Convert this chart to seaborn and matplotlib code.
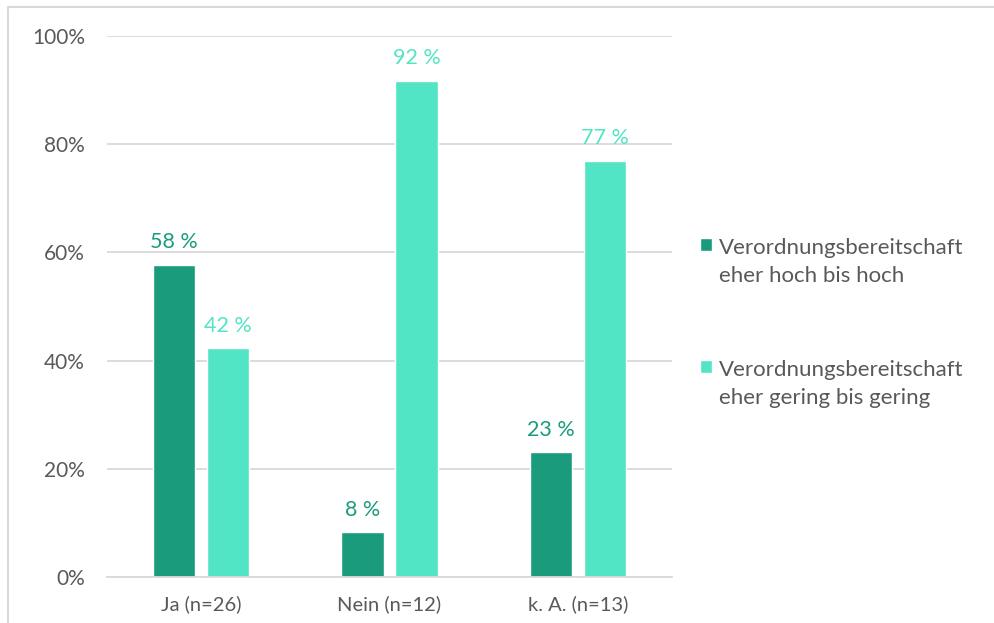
import matplotlib
matplotlib.use("Agg")
import matplotlib.pyplot as plt
import seaborn as sns
import pandas as pd
from matplotlib.lines import Line2D
from matplotlib.patches import Rectangle
from matplotlib.legend_handler import HandlerPatch
from matplotlib.ticker import FuncFormatter

categories = ["Ja (n=26)", "Nein (n=12)", "k. A. (n=13)"]
series_names = ["Verordnungsbereitschaft\neher hoch bis hoch",
                "Verordnungsbereitschaft\neher gering bis gering"]
high_values = [57.7, 8.3, 23.1]
low_values = [42.3, 91.7, 76.9]
colors = ["#1A9C7C", "#52E5C5"]

df = pd.DataFrame({
    "Kategorie": categories * 2,
    "Serie": [series_names[0]] * 3 + [series_names[1]] * 3,
    "Wert": high_values + low_values,
})

sns.set_theme(style="white")
plt.rcParams["font.family"] = ["Lato", "DejaVu Sans"]
TXT = "#595959"

fig = plt.figure(figsize=(9.94, 6.23), dpi=100)
ax = fig.add_axes([107 / 994, 46 / 623, (672 - 107) / 994, (577 - 36) / 623])

sns.barplot(data=df, x="Kategorie", y="Wert", hue="Serie", order=categories,
            hue_order=series_names, palette=colors, width=0.574, gap=0.22,
            saturation=1, errorbar=None, ax=ax, legend=True)

ax.set_ylim(0, 100)
ax.set_xlim(-0.5, 2.5)
ax.set_yticks([0, 20, 40, 60, 80, 100])
ax.yaxis.set_major_formatter(FuncFormatter(lambda v, p: f"{int(v)}%"))
ax.grid(axis="y", color="#D9D9D9", linewidth=1.3)
ax.set_axisbelow(True)
for s in ["top", "right", "left"]:
    ax.spines[s].set_visible(False)
ax.spines["bottom"].set_color("#D9D9D9")
ax.spines["bottom"].set_linewidth(1.3)
ax.tick_params(axis="both", length=0, colors=TXT)
ax.tick_params(axis="x", labelsize=14.5, pad=13)
ax.tick_params(axis="y", labelsize=15, pad=16)
ax.set_xlabel("")
ax.set_ylabel("")

for container, col in zip(ax.containers, colors):
    ax.bar_label(container, labels=[f"{int(round(b.get_height()))} %" for b in container],
                 color=col, fontsize=15.5, padding=9)


def make_patch(legend, orig_handle, xdescent, ydescent, width, height, fontsize):
    return Rectangle((-xdescent, -ydescent + 12.5), width, height)


handles, labels = ax.get_legend_handles_labels()
leg = ax.legend(handles, labels, loc="center left", bbox_to_anchor=(1.014, 0.47),
                frameon=False, fontsize=16, labelcolor=TXT, handlelength=0.55,
                handleheight=0.55, handletextpad=0.3, labelspacing=3.35,
                handler_map={h: HandlerPatch(patch_func=make_patch) for h in handles})
for t in leg.get_texts():
    t.set_linespacing(1.5)

fig.add_artist(Line2D([8 / 994, 8 / 994], [0, 1 - 6.5 / 623], transform=fig.transFigure,
                      color="#D9D9D9", linewidth=1.5))
fig.add_artist(Line2D([8 / 994, 1], [1 - 6.5 / 623, 1 - 6.5 / 623], transform=fig.transFigure,
                      color="#D9D9D9", linewidth=1.5))

fig.savefig("out.png", dpi=100)
